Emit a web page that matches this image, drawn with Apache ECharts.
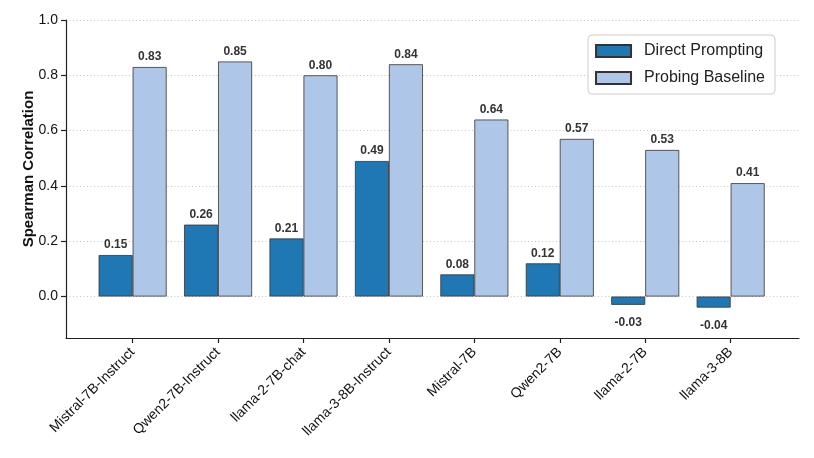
<!DOCTYPE html>
<html><head><meta charset="utf-8">
<script src="https://cdn.jsdelivr.net/npm/echarts@6/dist/echarts.min.js"></script>
<style>html,body{margin:0;padding:0;background:#fff}#c{width:814px;height:458px}</style>
</head><body><div id="c"></div>
<script>
var categories = ['Mistral-7B-Instruct','Qwen2-7B-Instruct','llama-2-7B-chat','llama-3-8B-Instruct','Mistral-7B','Qwen2-7B','llama-2-7B','llama-3-8B'];
var directPrompting = [0.15, 0.26, 0.21, 0.49, 0.08, 0.12, -0.03, -0.04];
var probingBaseline = [0.83, 0.85, 0.80, 0.84, 0.64, 0.57, 0.53, 0.41];
var yTicks = [0, 0.2, 0.4, 0.6, 0.8, 1.0];
var xTicks = categories.map(function(c, i){ return i; });

var FONT = 'Liberation Sans, Arial, sans-serif';
function mk(vals){
  return vals.map(function(v, i){
    return {value: [i, v], label: {position: v < 0 ? 'bottom' : 'top', distance: v < 0 ? 12 : 4}};
  });
}
var labelCfg = {show: true, fontFamily: FONT, fontWeight: 'bold', fontSize: 12, color: '#333',
  formatter: function(p){ return p.value[1].toFixed(2); }};

var chart = echarts.init(document.getElementById('c'), null, {renderer: 'canvas'});
chart.setOption({
  animation: false,
  textStyle: {fontFamily: FONT},
  grid: {left: 66, right: 15, top: 20, bottom: 120, containLabel: false},
  legend: {
    orient: 'vertical', right: 39, top: 35, icon: 'rect',
    backgroundColor: '#fff', borderColor: '#ccc', borderWidth: 1, borderRadius: 4,
    padding: [8, 10, 8, 7], itemWidth: 35, itemHeight: 12, itemGap: 11,
    textStyle: {fontFamily: FONT, fontSize: 16, color: '#222', padding: [0, 0, 0, 8]},
    data: ['Direct Prompting', 'Probing Baseline']
  },
  xAxis: {
    type: 'value', min: -0.78, max: 7.8,
    splitLine: {show: false},
    axisLine: {show: true, onZero: false, lineStyle: {color: '#222', width: 1.2}},
    axisTick: {show: true, customValues: xTicks, length: 5, lineStyle: {color: '#222', width: 1.2}},
    axisLabel: {show: true, customValues: xTicks, rotate: 45, fontSize: 14, color: '#111', margin: 12,
      fontFamily: FONT,
      formatter: function(v){ return categories[Math.round(v)]; }}
  },
  yAxis: {
    type: 'value', min: -0.15, max: 1.0,
    name: 'Spearman Correlation', nameLocation: 'middle', nameGap: 30, nameMoveOverlap: false,
    nameTextStyle: {fontFamily: FONT, fontWeight: 'bold', fontSize: 15, color: '#111', padding: [0, 0, 0, 20]},
    axisLine: {show: true, onZero: false, lineStyle: {color: '#222', width: 1.2}},
    axisTick: {show: true, customValues: yTicks, length: 5, lineStyle: {color: '#222', width: 1.2}},
    axisLabel: {show: true, customValues: yTicks, fontSize: 14, color: '#111', margin: 8, fontFamily: FONT,
      formatter: function(v){ return v.toFixed(1); }},
    splitLine: {show: false}
  },
  series: [
    {name: 'Direct Prompting', type: 'bar', data: mk(directPrompting), barWidth: 34, barGap: '0%',
      itemStyle: {color: '#1f77b4', borderColor: '#333', borderWidth: 0.8},
      label: labelCfg,
      markLine: {silent: true, symbol: 'none', label: {show: false},
        lineStyle: {type: [1, 2.5], color: '#c4c4c4', width: 1},
        data: yTicks.map(function(t){ return {yAxis: t}; }), z: 0}
    },
    {name: 'Probing Baseline', type: 'bar', data: mk(probingBaseline), barWidth: 34, barGap: '0%',
      itemStyle: {color: '#aec7e8', borderColor: '#333', borderWidth: 0.8},
      label: labelCfg}
  ]
});
</script></body></html>
